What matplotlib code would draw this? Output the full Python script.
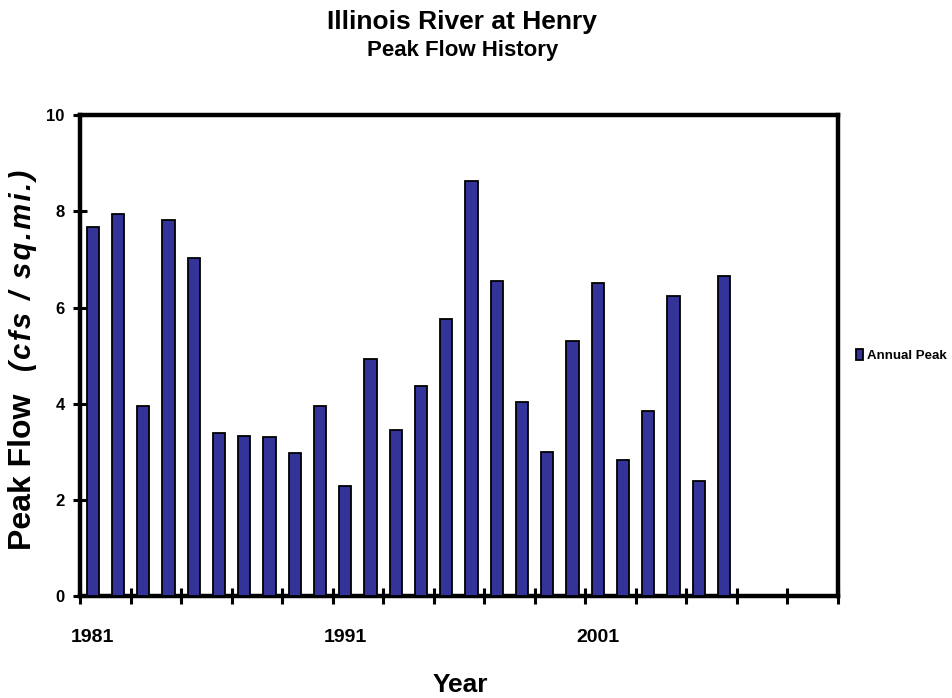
import matplotlib
matplotlib.use("Agg")
import matplotlib.pyplot as plt
import numpy as np

plt.rcParams['font.family'] = ['Liberation Sans', 'DejaVu Sans']

years = list(range(1981, 2007))
peak_flow = [7.67, 7.95, 3.96, 7.83, 7.03, 3.40, 3.33, 3.31, 2.97, 3.96,
             2.29, 4.93, 3.46, 4.36, 5.76, 8.63, 6.56, 4.04, 2.99, 5.30,
             6.51, 2.83, 3.85, 6.24, 2.39, 6.65]
axis_end_year = 2010
year_labels = ['1981', '1991', '2001']
y_ticks = [0, 2, 4, 6, 8, 10]

fig = plt.figure(figsize=(9.53, 6.98), dpi=100)
ax = fig.add_axes([0.084, 0.146, 0.795, 0.689])

x = np.array(years) - years[0]
ax.bar(x, peak_flow, width=0.48, color='#333399', edgecolor='black',
       linewidth=1.3, label='Annual Peak', zorder=3)

n_slots = axis_end_year - years[0] + 1
ax.set_xlim(-0.5, n_slots - 0.5)
ax.set_ylim(0, 10)

for s in ax.spines.values():
    s.set_linewidth(3.2)
    s.set_color('black')

ax.set_xticks(np.arange(-0.5, n_slots, 2))
ax.set_xticklabels([])
ax.tick_params(axis='x', which='major', direction='inout', length=12, width=2.2)
ax.set_xticks([int(y) - years[0] for y in year_labels], minor=True)
ax.set_xticklabels(year_labels, minor=True, fontsize=14, fontweight='bold')
ax.tick_params(axis='x', which='minor', length=0, pad=24)

ax.set_yticks(y_ticks)
ax.set_yticklabels([str(v) for v in y_ticks], fontsize=12, fontweight='bold')
ax.tick_params(axis='y', direction='inout', length=10, width=2.2, pad=6)

fig.text(0.485, 0.968, 'Illinois River at Henry', ha='center', va='center',
         fontsize=19, fontweight='bold')
fig.text(0.485, 0.928, 'Peak Flow History', ha='center', va='center',
         fontsize=16, fontweight='bold')

fig.text(0.483, 0.018, 'Year', ha='center', va='center', fontsize=19, fontweight='bold')

fig.text(0.024, 0.212, 'Peak Flow', rotation=90, ha='center', va='bottom',
         fontsize=23, fontweight='bold')
hair = '\u200a'
fig.text(0.024, 0.757, hair.join('(cfs / sq.mi.)'), rotation=90, ha='center', va='top',
         fontsize=21, fontweight='bold', style='italic')

leg = fig.legend(loc='center left', bbox_to_anchor=(0.886, 0.49), frameon=False,
                 handlelength=0.55, handleheight=0.9, handletextpad=0.25,
                 prop={'weight': 'bold', 'size': 9.5})

fig.savefig('out.png', dpi=100)
